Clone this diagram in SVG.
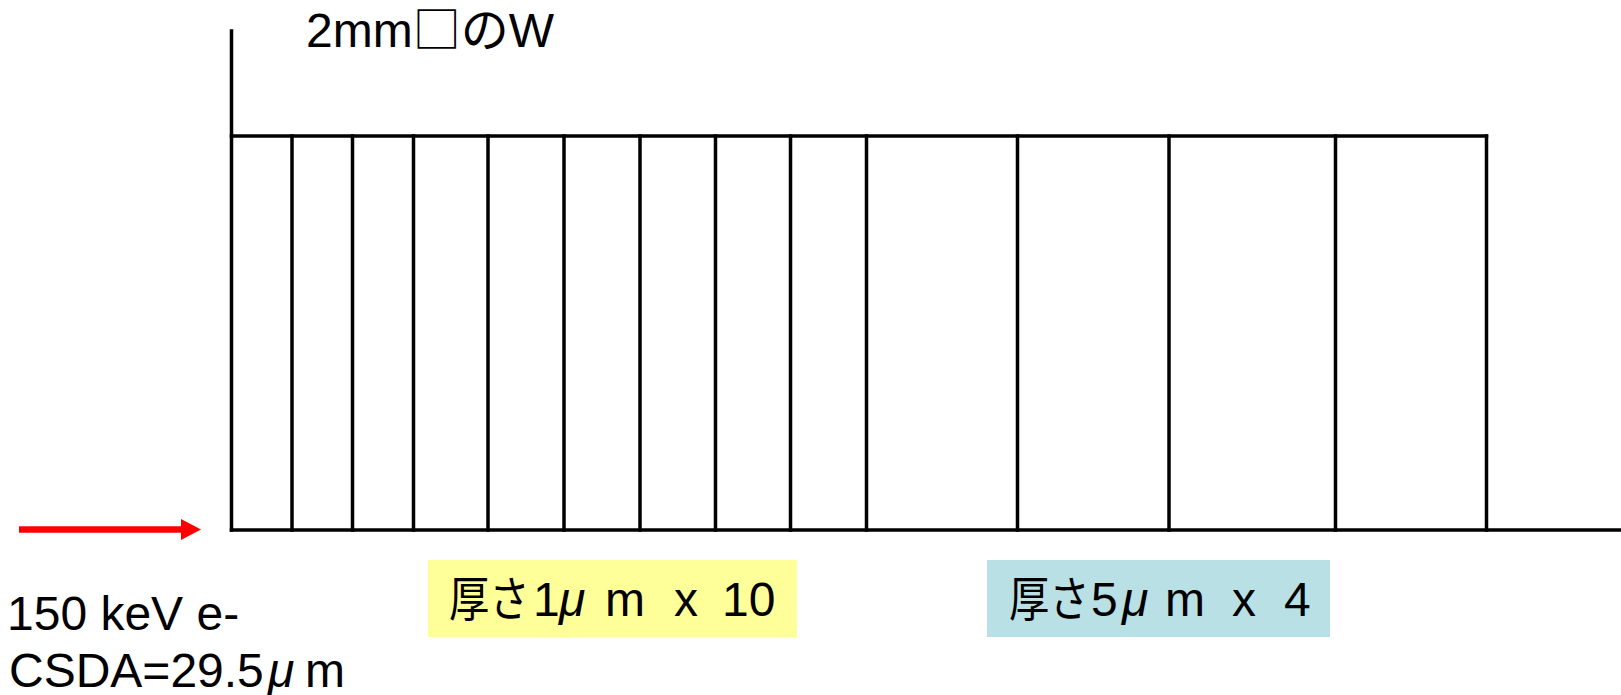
<svg xmlns="http://www.w3.org/2000/svg" width="1621" height="695" viewBox="0 0 1621 695">
  <defs>
    <style>
      .ln { stroke: #000; stroke-width: 3.5; fill: none; stroke-linecap: square; }
      .t { font-family: "Liberation Sans", Arial, "Noto Sans CJK JP", sans-serif; font-size: 48px; fill: #000; }
      .cjk { font-family: "Noto Sans CJK JP", "Liberation Sans", sans-serif; }
      .mu { font-style: italic; }
    </style>
    <marker id="redhead" markerUnits="userSpaceOnUse" markerWidth="21" markerHeight="22" refX="0" refY="10.5" orient="auto">
      <path d="M0,0 L20,10.5 L0,21 Z" fill="#FF0000"/>
    </marker>
  </defs>
  <rect width="1621" height="695" fill="#FFFFFF"/>

  <g id="target">
    <line class="ln" x1="231.5" y1="31" x2="231.5" y2="530"/>
    <line class="ln" x1="231.5" y1="136" x2="1486.5" y2="136"/>
    <line class="ln" x1="231.5" y1="530" x2="1621" y2="530"/>
    <line class="ln" x1="292" y1="136" x2="292" y2="530"/>
    <line class="ln" x1="352.5" y1="136" x2="352.5" y2="530"/>
    <line class="ln" x1="413.5" y1="136" x2="413.5" y2="530"/>
    <line class="ln" x1="488" y1="136" x2="488" y2="530"/>
    <line class="ln" x1="564" y1="136" x2="564" y2="530"/>
    <line class="ln" x1="640" y1="136" x2="640" y2="530"/>
    <line class="ln" x1="715.5" y1="136" x2="715.5" y2="530"/>
    <line class="ln" x1="790.5" y1="136" x2="790.5" y2="530"/>
    <line class="ln" x1="866.5" y1="136" x2="866.5" y2="530"/>
    <line class="ln" x1="1017.5" y1="136" x2="1017.5" y2="530"/>
    <line class="ln" x1="1169" y1="136" x2="1169" y2="530"/>
    <line class="ln" x1="1335.5" y1="136" x2="1335.5" y2="530"/>
    <line class="ln" x1="1486.5" y1="136" x2="1486.5" y2="530"/>
  </g>

  <g id="title">
    <text class="t" x="306" y="47">2mm<tspan class="cjk">□の</tspan>W</text>
  </g>

  <g id="beam-label">
    <text class="t" x="7" y="630">150 keV e-</text>
    <text class="t" y="687"><tspan x="9">CSDA=29.5</tspan><tspan class="mu" x="268">μ</tspan><tspan x="305">m</tspan></text>
  </g>

  <g id="box-1um">
    <rect x="428" y="560" width="369" height="77" fill="#FFFF99"/>
    <text class="t cjk" transform="matrix(0.84 0 0 1 449 616)">厚さ</text>
    <text class="t" y="616"><tspan x="533">1</tspan><tspan class="mu" x="559">μ</tspan><tspan x="605">m</tspan><tspan x="674">x</tspan><tspan x="722">10</tspan></text>
  </g>

  <g id="box-5um">
    <rect x="987" y="560" width="343" height="77" fill="#B9E0E4"/>
    <text class="t cjk" transform="matrix(0.84 0 0 1 1009 616)">厚さ</text>
    <text class="t" y="616"><tspan x="1091">5</tspan><tspan class="mu" x="1122">μ</tspan><tspan x="1165">m</tspan><tspan x="1232">x</tspan><tspan x="1284">4</tspan></text>
  </g>

  <g id="connectors">
    <line x1="19" y1="529.5" x2="181" y2="529.5" stroke="#FF0000" stroke-width="6.5" marker-end="url(#redhead)"/>
  </g>
</svg>
